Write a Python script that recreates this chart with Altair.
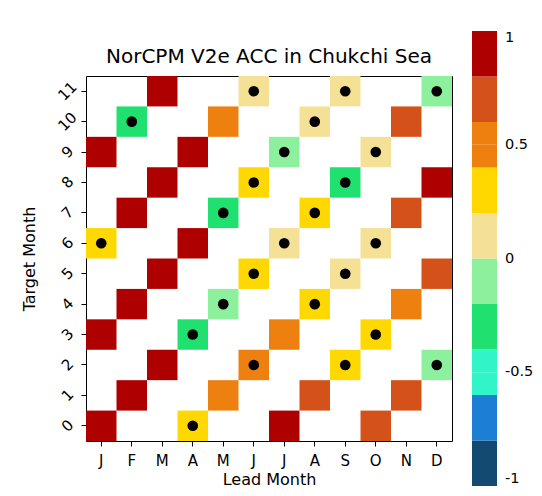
import altair as alt
import pandas as pd

lead_labels = ["J", "F", "M", "A", "M", "J", "J", "A", "S", "O", "N", "D"]
target_months = list(range(11, -1, -1))

cell_target = [11, 11, 11, 11, 10, 10, 10, 10, 9, 9, 9, 9,
               8, 8, 8, 8, 7, 7, 7, 7, 6, 6, 6, 6,
               5, 5, 5, 5, 4, 4, 4, 4, 3, 3, 3, 3,
               2, 2, 2, 2, 1, 1, 1, 1, 0, 0, 0, 0]
cell_lead = [2, 5, 8, 11, 1, 4, 7, 10, 0, 3, 6, 9,
             2, 5, 8, 11, 1, 4, 7, 10, 0, 3, 6, 9,
             2, 5, 8, 11, 1, 4, 7, 10, 0, 3, 6, 9,
             2, 5, 8, 11, 1, 4, 7, 10, 0, 3, 6, 9]
cell_acc = [0.91, 0.12, 0.08, -0.10,
            -0.28, 0.48, 0.10, 0.70,
            0.92, 0.90, -0.12, 0.08,
            0.93, 0.30, -0.30, 0.90,
            0.92, -0.32, 0.28, 0.68,
            0.30, 0.91, 0.10, 0.12,
            0.94, 0.32, 0.10, 0.66,
            0.92, -0.10, 0.30, 0.52,
            0.93, -0.30, 0.50, 0.30,
            0.92, 0.55, 0.30, -0.10,
            0.91, 0.50, 0.68, 0.70,
            0.95, 0.30, 0.88, 0.66]
cell_dot = [False, True, True, True,
            True, False, True, False,
            False, False, True, True,
            False, True, True, False,
            False, True, True, False,
            True, False, True, True,
            False, True, True, False,
            False, True, True, False,
            False, True, False, True,
            False, True, True, True,
            False, False, False, False,
            False, True, False, False]

bin_colors = ["#134a72", "#1c7ed4", "#30f5c8", "#20e070", "#8cf09c",
              "#f5e196", "#ffd800", "#ee8010", "#d4521a", "#af0000"]
cbar_edges = [-1, -0.8, -0.6, -0.5, -0.4, -0.2, 0, 0.2, 0.4, 0.5, 0.6, 0.8, 1]
cbar_labels = {1: "1", 0.5: "0.5", 0: "0", -0.5: "-0.5", -1: "-1"}

df = pd.DataFrame({"target": cell_target, "lead": cell_lead,
                   "acc": cell_acc, "dot": cell_dot})

label_expr = "[" + ",".join(f"'{s}'" for s in lead_labels) + "][datum.value]"
cbar_expr = " : ".join(f"datum.value == {v} ? '{t}'" for v, t in cbar_labels.items()) + " : ''"

x_enc = alt.X("lead:O", scale=alt.Scale(domain=list(range(12)), paddingInner=0, paddingOuter=0),
              axis=alt.Axis(title="Lead Month", labelExpr=label_expr, labelAngle=0,
                            labelFontSize=15, titleFontSize=16, tickSize=5, tickColor="black",
                            labelColor="black", titleColor="black", domain=False,
                            labelPadding=7, titlePadding=3, titleFontWeight="normal"))
y_enc = alt.Y("target:O", scale=alt.Scale(domain=target_months, paddingInner=0, paddingOuter=0),
              axis=alt.Axis(title="Target Month", labelAngle=315, labelAlign="center",
                            labelBaseline="middle", labelFontSize=15, titleFontSize=16,
                            tickSize=5, tickColor="black", labelColor="black",
                            titleColor="black", domain=False, labelPadding=14,
                            titlePadding=18, titleFontWeight="normal"))

rects = alt.Chart(df).mark_rect().encode(
    x=x_enc, y=y_enc,
    color=alt.Color("acc:Q",
                    scale=alt.Scale(type="quantize", domain=[-1, 1], range=bin_colors,
                                    nice=False, zero=False),
                    legend=alt.Legend(type="gradient", title=None, orient="none",
                                      legendX=386, legendY=-45, direction="vertical",
                                      gradientLength=455, gradientThickness=25,
                                      gradientStrokeWidth=0,
                                      values=cbar_edges, labelExpr=cbar_expr,
                                      labelOverlap=False, labelBaseline="middle",
                                      labelFontSize=14.5, labelColor="black", labelOffset=8)),
)

dots = alt.Chart(df).transform_filter("datum.dot").mark_circle(
    size=113, color="black", opacity=1).encode(x=x_enc, y=y_enc)

chart = alt.layer(rects, dots).properties(
    width=366, height=365,
    title=alt.Title("NorCPM V2e ACC in Chukchi Sea", fontSize=20, fontWeight="normal",
                    color="black", offset=10, dy=46),
    autosize=alt.AutoSizeParams(type="none"),
    padding={"left": 78, "top": 68, "right": 82, "bottom": 47},
).configure(font="DejaVu Sans").configure_view(stroke="black", strokeWidth=1)

chart.save("out.html", embed_options={"renderer": "svg", "actions": False})
